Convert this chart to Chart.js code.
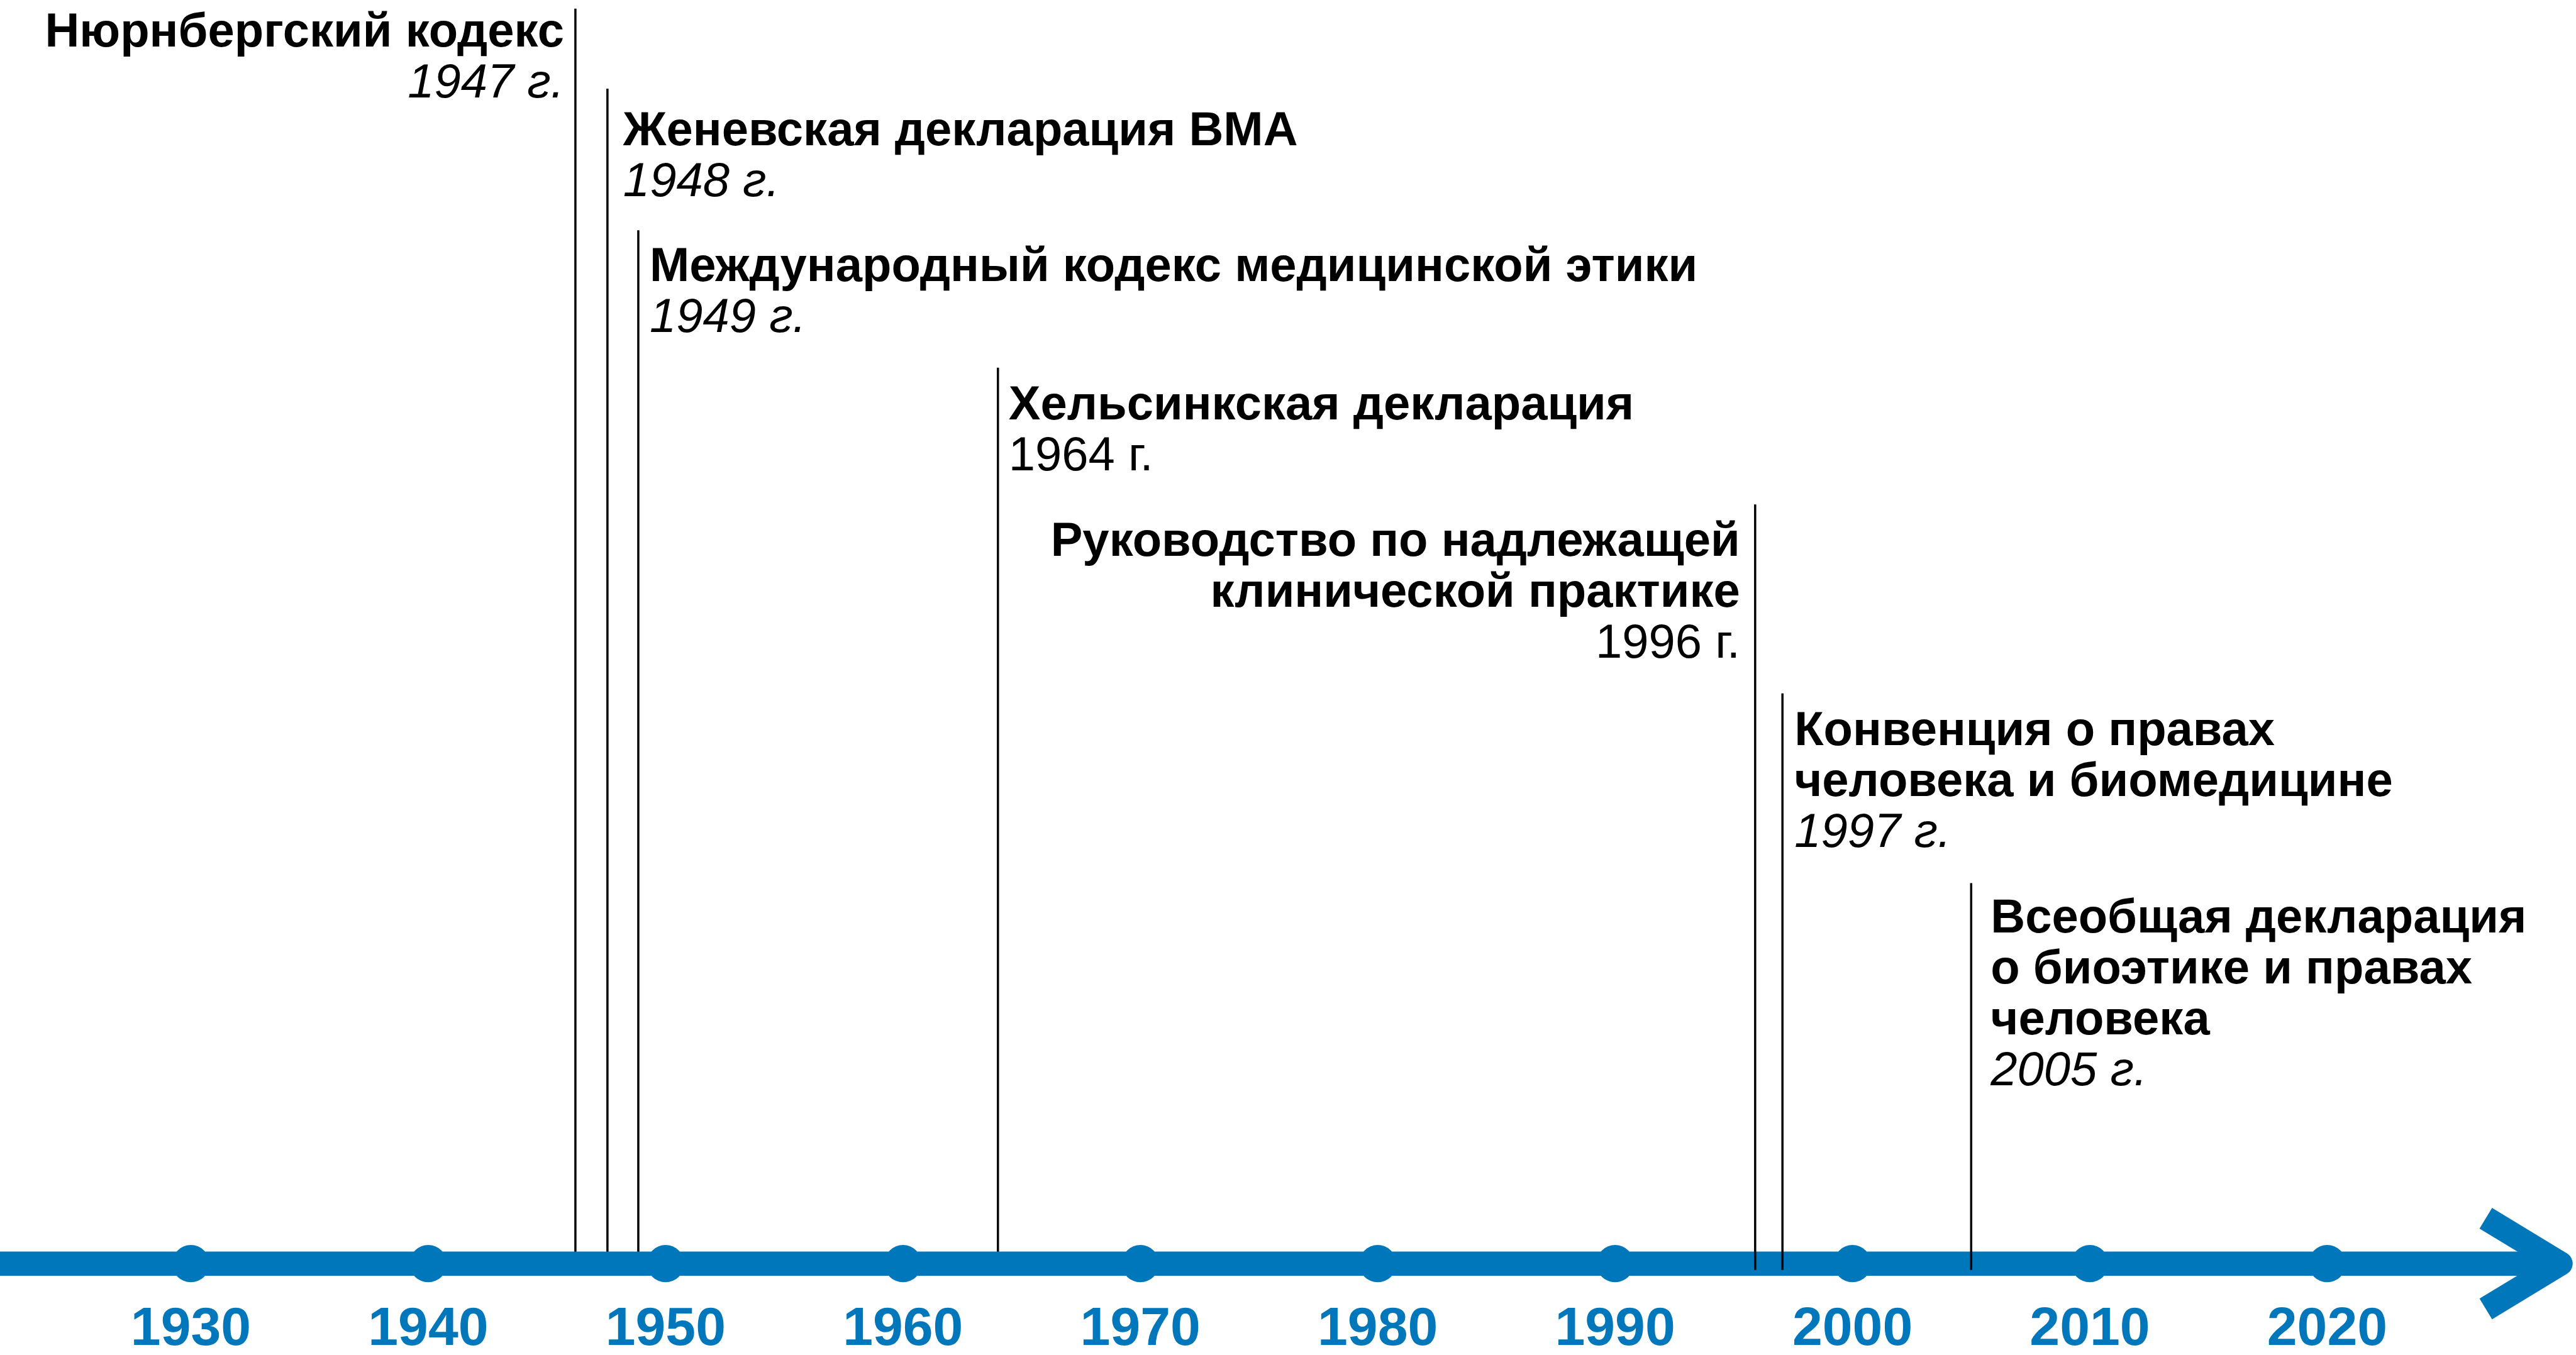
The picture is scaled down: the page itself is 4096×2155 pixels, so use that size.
<!DOCTYPE html>
<html lang="ru">
<head>
<meta charset="utf-8">
<title>Международные документы по биоэтике</title>
<script src="https://cdn.jsdelivr.net/npm/chart.js@4.4.1/dist/chart.umd.min.js"></script>
<style>
  html, body { margin: 0; padding: 0; background: #fff; }
  canvas { display: block; }
</style>
</head>
<body>
<canvas id="timeline" width="4096" height="2155"></canvas>
<script>
// decades marked on the axis
const decades = [1930, 1940, 1950, 1960, 1970, 1980, 1990, 2000, 2010, 2020];

// documents
const eventYears = [1947, 1948, 1949, 1964, 1996, 1997, 2005];
// where each marker line stands on the axis (the first three are pulled apart)
const markerAt = [1946.2, 1947.55, 1948.85, 1964.0, 1995.9, 1997.05, 2005.0];
// how high each marker line rises above the axis
const markerTop = [99.6, 93.25, 82.0, 71.1, 60.25, 45.25, 30.2];
const markerFoot = -0.5;
const eventTitles = [
  ['Нюрнбергский кодекс'],
  ['Женевская декларация ВМА'],
  ['Международный кодекс медицинской этики'],
  ['Хельсинкская декларация'],
  ['Руководство по надлежащей', 'клинической практике'],
  ['Конвенция о правах', 'человека и биомедицине'],
  ['Всеобщая декларация', 'о биоэтике и правах', 'человека']
];

// axis extent and arrow head
const axisFrom = 1921.96;
const axisTo = 2030.48;
const arrowX = [2026.68, 2029.83, 2026.68];
const arrowY = [3.6, 0, -3.6];

// layout / style
const BLUE = '#0077BB';
const FONT = '"Liberation Sans", Arial, sans-serif';
const textSide = ['right', 'left', 'left', 'left', 'right', 'left', 'left'];
const italicYear = [true, true, true, false, false, true, true];
const overAxis = [false, false, false, false, true, true, true];
const textDrop = [60, 90, 81, 82, 82, 82, 79];
const textGap = [18, 25, 18, 17, 24, 19, 31];
const lineStep = 81;

const markerLines = (front) => {
  const pts = [];
  markerAt.forEach((x, i) => {
    if (overAxis[i] !== front) return;
    pts.push({x: x, y: markerTop[i]}, {x: x, y: markerFoot}, {x: x, y: null});
  });
  return pts;
};

const eventText = {
  id: 'eventText',
  afterDatasetsDraw(chart) {
    const {ctx, scales: {x, y}} = chart;
    ctx.save();
    ctx.fillStyle = '#000';
    ctx.textBaseline = 'alphabetic';
    eventTitles.forEach((lines, i) => {
      const px = x.getPixelForValue(markerAt[i]);
      let py = y.getPixelForValue(markerTop[i]) + textDrop[i];
      const right = textSide[i] === 'right';
      const tx = right ? px - textGap[i] : px + textGap[i];
      ctx.textAlign = right ? 'right' : 'left';
      ctx.font = 'bold 76px ' + FONT;
      lines.forEach(line => {
        ctx.fillText(line, tx, py);
        py += lineStep;
      });
      ctx.font = (italicYear[i] ? 'italic ' : '') + '76px ' + FONT;
      ctx.fillText(eventYears[i] + ' г.', tx, py);
    });
    ctx.restore();
  }
};

const ctx = document.getElementById('timeline').getContext('2d');
new Chart(ctx, {
  type: 'scatter',
  data: {
    datasets: [
      {
        // marker lines hidden behind the axis
        data: markerLines(false),
        showLine: true,
        spanGaps: false,
        borderColor: '#000',
        borderWidth: 3.5,
        pointRadius: 0,
        clip: false,
        order: 3
      },
      {
        // axis band
        data: [{x: axisFrom, y: 0}, {x: arrowX[1], y: 0}],
        showLine: true,
        borderColor: BLUE,
        borderWidth: 38.5,
        borderCapStyle: 'butt',
        pointRadius: 0,
        clip: false,
        order: 2
      },
      {
        // arrow head
        data: arrowX.map((x, i) => ({x: x, y: arrowY[i]})),
        showLine: true,
        borderColor: BLUE,
        borderWidth: 38.5,
        borderCapStyle: 'butt',
        borderJoinStyle: 'round',
        pointRadius: 0,
        clip: false,
        order: 2
      },
      {
        // decade dots
        data: decades.map(d => ({x: d, y: 0})),
        pointRadius: 29.7,
        pointBackgroundColor: BLUE,
        pointBorderWidth: 0,
        clip: false,
        order: 2
      },
      {
        // marker lines drawn over the axis
        data: markerLines(true),
        showLine: true,
        spanGaps: false,
        borderColor: '#000',
        borderWidth: 3.5,
        pointRadius: 0,
        clip: false,
        order: 1
      }
    ]
  },
  options: {
    responsive: false,
    animation: false,
    events: [],
    layout: {padding: 0, autoPadding: false},
    plugins: {
      legend: {display: false},
      tooltip: {enabled: false}
    },
    scales: {
      x: {
        type: 'linear',
        position: 'bottom',
        min: axisFrom,
        max: axisTo,
        grid: {display: false, drawTicks: false},
        border: {display: false},
        afterBuildTicks: (axis) => {
          axis.ticks = decades.map(v => ({value: v}));
        },
        ticks: {
          autoSkip: false,
          maxRotation: 0,
          padding: 1,
          color: BLUE,
          font: {family: FONT, size: 86, weight: 'bold', lineHeight: 0.9},
          callback: (v) => String(v)
        }
      },
      y: {
        display: false,
        min: -3.29,
        max: 100.28
      }
    }
  },
  plugins: [eventText]
});
</script>
</body>
</html>
